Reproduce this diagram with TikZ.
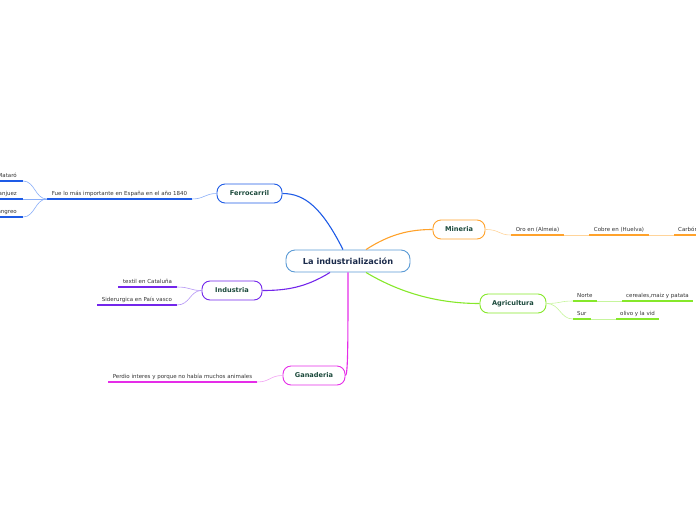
\documentclass[tikz,border=0pt]{standalone}
\usepackage{fontspec}
\setmainfont{DejaVu Sans}
\usetikzlibrary{calc,positioning}

\definecolor{ferro}{HTML}{1E5BE6}
\definecolor{ferrolight}{HTML}{8AAEF8}
\definecolor{mine}{HTML}{FFA22B}
\definecolor{minelight}{HTML}{FFD49A}
\definecolor{agri}{HTML}{86E82A}
\definecolor{agrilight}{HTML}{C6F59C}
\definecolor{indu}{HTML}{7326EB}
\definecolor{indulight}{HTML}{B596F5}
\definecolor{gana}{HTML}{E52DE8}
\definecolor{ganalight}{HTML}{F2A2F3}
\definecolor{rootline}{HTML}{5B9BD5}
\definecolor{topictext}{HTML}{1C4A3C}
\definecolor{roottext}{HTML}{1B2B4B}

\tikzset{
  root/.style={draw=rootline, fill=white, line width=0.9pt, rounded corners=9pt,
    minimum width=124pt, minimum height=22pt, text=roottext,
    font=\fontsize{8.2}{9}\selectfont\bfseries},
  topic/.style={draw, fill=white, line width=0.9pt, rounded corners=8pt,
    minimum height=19pt, text=topictext, inner sep=0pt,
    font=\fontsize{6.6}{7}\selectfont\bfseries},
  lbl/.style={font=\fontsize{5.5}{6}\selectfont, text=black!80, inner sep=0pt},
  ul/.style={line width=1.4pt},
  branch/.style={line width=1.1pt},
  link/.style={line width=0.6pt}
}

\begin{document}
\begin{tikzpicture}[x=1pt, y=-1pt]

\useasboundingbox (0,0) rectangle (696,520);
\clip (0,0) rectangle (696,520);

% Central topic
\node[root] (main) at (348,261) {La industrialización};

% Main topics
\node[topic, draw=ferro, minimum width=65pt] (fer) at (249.5,193.5) {Ferrocarril};
\node[topic, draw=mine, minimum width=52pt] (min) at (459,229.5) {Mineria};
\node[topic, draw=agri, minimum width=66pt] (agr) at (513,303.5) {Agricultura};
\node[topic, draw=indu, minimum width=60pt] (ind) at (232,290.5) {Industria};
\node[topic, draw=gana, minimum width=62pt] (gan) at (314,375.5) {Ganaderia};

% Branches from the centre
\draw[branch, ferro] ([xshift=-5pt]main.north) .. controls (322,208) and (305,193.5) .. (fer.east);
\draw[branch, mine] ([xshift=18pt]main.north) .. controls (390,234) and (410,229.5) .. (min.west);
\draw[branch, agri] ([xshift=18pt]main.south) .. controls (402,294) and (440,303.5) .. (agr.west);
\draw[branch, indu] ([xshift=-18pt]main.south) .. controls (305,288) and (285,290.5) .. (ind.east);
\draw[branch, gana] (main.south) .. controls (348,340) and (348,375.5) .. (gan.east);

% Ferrocarril
\coordinate (fueL) at (47,199);
\coordinate (fueR) at (192,199);
\draw[ul, ferro] (fueL) -- (fueR);
\node[lbl, anchor=base] (fue) at ($(fueL)!0.5!(fueR)+(0,-4)$) {Fue lo más importante en España en el año 1840};
\draw[link, ferrolight] (fer.west) .. controls (205,193.5) and (204,199) .. (fueR);

\foreach \n/\y/\t in {mat/181/Mataró, ara/199/anjuez, lan/217/angreo}{
  \coordinate (\n R) at (23,\y);
  \draw[ul, ferro] (-5,\y) -- (\n R);
  \node[lbl, anchor=base east] (\n) at (17,\y-4) {\t};
  \draw[link, ferrolight] (fueL) .. controls (35,199) and (35,\y) .. (\n R);
}

% Mineria
\coordinate (oroL) at (511,235);
\coordinate (oroR) at (564,235);
\coordinate (cobL) at (589,235);
\coordinate (cobR) at (649,235);
\coordinate (carL) at (674,235);
\draw[ul, mine] (oroL) -- (oroR);
\draw[ul, mine] (cobL) -- (cobR);
\draw[ul, mine] (carL) -- (700,235);
\node[lbl, anchor=base] (oro) at ($(oroL)!0.5!(oroR)+(0,-4)$) {Oro en (Almeia)};
\node[lbl, anchor=base] (cob) at ($(cobL)!0.5!(cobR)+(0,-4)$) {Cobre en (Huelva)};
\node[lbl, anchor=base west] (car) at (678,231) {Carbón};
\draw[link, minelight] (min.east) .. controls (500,229.5) and (498,235) .. (oroL);
\draw[link, minelight] (oroR) -- (cobL);
\draw[link, minelight] (cobR) -- (carL);

% Agricultura
\coordinate (norL) at (573,301);
\coordinate (norR) at (597,301);
\coordinate (cerL) at (622,301);
\coordinate (cerR) at (693,301);
\coordinate (surL) at (573,319);
\coordinate (surR) at (591,319);
\coordinate (oliL) at (616,319);
\coordinate (oliR) at (659,319);
\draw[ul, agri] (norL) -- (norR);
\draw[ul, agri] (cerL) -- (cerR);
\draw[ul, agri] (surL) -- (surR);
\draw[ul, agri] (oliL) -- (oliR);
\node[lbl, anchor=base west] (nor) at (577,297) {Norte};
\node[lbl, anchor=base] (cer) at ($(cerL)!0.5!(cerR)+(0,-4)$) {cereales,maiz y patata};
\node[lbl, anchor=base west] (sur) at (577,315) {Sur};
\node[lbl, anchor=base] (oli) at ($(oliL)!0.5!(oliR)+(0,-4)$) {olivo y la vid};
\draw[link, agrilight] (agr.east) .. controls (560,303.5) and (560,301) .. (norL);
\draw[link, agrilight] (agr.east) .. controls (560,303.5) and (560,319) .. (surL);
\draw[link, agrilight] (norR) -- (cerL);
\draw[link, agrilight] (surR) -- (oliL);

% Industria
\coordinate (texL) at (118,287);
\coordinate (texR) at (177,287);
\coordinate (sidL) at (97,305);
\coordinate (sidR) at (177,305);
\draw[ul, indu] (texL) -- (texR);
\draw[ul, indu] (sidL) -- (sidR);
\node[lbl, anchor=base] (tex) at ($(texL)!0.5!(texR)+(0,-4)$) {textil en Cataluña};
\node[lbl, anchor=base] (sid) at ($(sidL)!0.5!(sidR)+(0,-4)$) {Siderurgica en País vasco};
\draw[link, indulight] (ind.west) .. controls (190,290.5) and (190,287) .. (texR);
\draw[link, indulight] (ind.west) .. controls (190,290.5) and (190,305) .. (sidR);

% Ganaderia
\coordinate (perL) at (108,382);
\coordinate (perR) at (257,382);
\draw[ul, gana] (perL) -- (perR);
\node[lbl, anchor=base] (per) at ($(perL)!0.5!(perR)+(0,-4)$) {Perdio interes y porque no había muchos animales};
\draw[link, ganalight] (gan.west) .. controls (270,375.5) and (270,382) .. (perR);

\end{tikzpicture}
\end{document}
